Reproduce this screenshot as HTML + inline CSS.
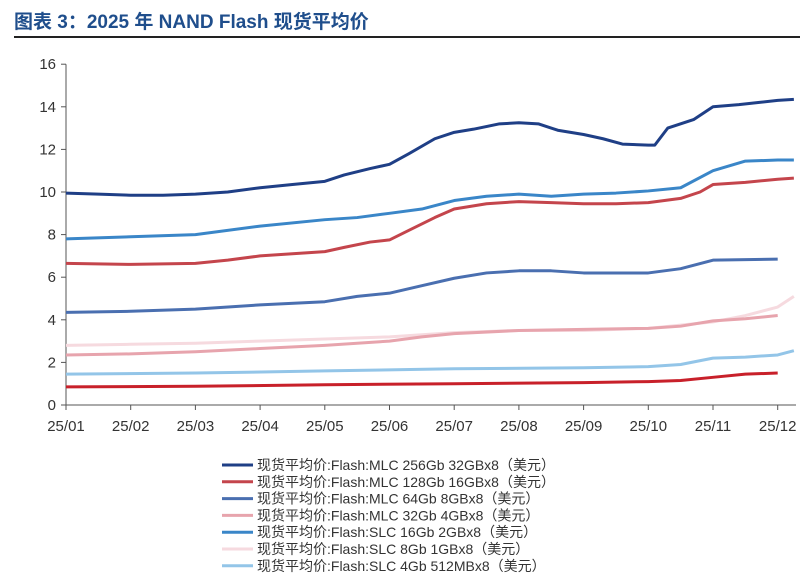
<!DOCTYPE html>
<html><head><meta charset="utf-8"><style>
body{margin:0;background:#fff;width:800px;height:582px;overflow:hidden;font-family:"Liberation Sans","Noto Sans CJK SC",sans-serif}
</style></head><body>
<svg id="c" width="800" height="582" xmlns="http://www.w3.org/2000/svg">
<text x="14" y="28" font-size="19" font-weight="bold" fill="#1f4e8c" font-family="Liberation Sans,Noto Sans CJK SC,sans-serif">图表 3：2025 年 NAND Flash 现货平均价</text>
<line x1="14" y1="37" x2="800" y2="37" stroke="#222" stroke-width="2"/>
<g id="axes"></g><g id="series"></g><g id="legend"></g>
</svg>
<script>
const months=["25/01","25/02","25/03","25/04","25/05","25/06","25/07","25/08","25/09","25/10","25/11","25/12"];
const yTicks=[0,2,4,6,8,10,12,14,16];
const names=["现货平均价:Flash:MLC 256Gb 32GBx8（美元）","现货平均价:Flash:MLC 128Gb 16GBx8（美元）","现货平均价:Flash:MLC 64Gb 8GBx8（美元）","现货平均价:Flash:MLC 32Gb 4GBx8（美元）","现货平均价:Flash:SLC 16Gb 2GBx8（美元）","现货平均价:Flash:SLC 8Gb 1GBx8（美元）","现货平均价:Flash:SLC 4Gb 512MBx8（美元）","其他"];
const colors=["#1f3f86","#c4454c","#4a6fb0","#e7a4ad","#3a86c8","#f6dadf","#93c5e8","#c8202a"];
const t256=[0,0.5,1,1.5,2,2.5,3,3.5,4,4.3,4.7,5,5.3,5.7,6,6.3,6.7,7,7.3,7.6,8,8.3,8.6,9,9.1,9.3,9.7,10,10.4,10.7,11,11.25];
const v256=[9.95,9.9,9.85,9.85,9.9,10.0,10.2,10.35,10.5,10.8,11.1,11.3,11.8,12.5,12.8,12.95,13.2,13.25,13.2,12.9,12.7,12.5,12.25,12.2,12.2,13.0,13.4,14.0,14.1,14.2,14.3,14.35];
const t128=[0,1,2,2.5,3,3.5,4,4.3,4.7,5,5.3,5.7,6,6.5,7,7.5,8,8.5,9,9.5,9.8,10,10.5,11,11.25];
const v128=[6.65,6.6,6.65,6.8,7.0,7.1,7.2,7.4,7.65,7.75,8.2,8.8,9.2,9.45,9.55,9.5,9.45,9.45,9.5,9.7,10.0,10.35,10.45,10.6,10.65];
const t64=[0,1,2,3,4,4.5,5,5.5,6,6.5,7,7.5,8,9,9.5,10,11];
const v64=[4.35,4.4,4.5,4.7,4.85,5.1,5.25,5.6,5.95,6.2,6.3,6.3,6.2,6.2,6.4,6.8,6.85];
const t32=[0,1,2,3,4,5,5.5,6,7,8,9,9.5,10,10.5,11];
const v32=[2.35,2.4,2.5,2.65,2.8,3.0,3.2,3.35,3.5,3.55,3.6,3.7,3.95,4.05,4.2];
const tS16=[0,1,2,3,4,4.5,5,5.5,6,6.5,7,7.5,8,8.5,9,9.5,10,10.5,11,11.25];
const vS16=[7.8,7.9,8.0,8.4,8.7,8.8,9.0,9.2,9.6,9.8,9.9,9.8,9.9,9.95,10.05,10.2,11.0,11.45,11.5,11.5];
const tS8=[0,1,2,3,4,5,6,7,8,9,10,10.5,11,11.25];
const vS8=[2.8,2.85,2.9,3.0,3.1,3.2,3.4,3.5,3.5,3.6,3.9,4.2,4.6,5.1];
const tS4=[0,2,4,6,8,9,9.5,10,10.5,11,11.25];
const vS4=[1.45,1.5,1.6,1.7,1.75,1.8,1.9,2.2,2.25,2.35,2.55];
const tR=[0,2,4,6,8,9,9.5,10,10.5,11];
const vR=[0.85,0.88,0.95,1.0,1.05,1.1,1.15,1.3,1.45,1.5];
const T=[t256,t128,t64,t32,tS16,tS8,tS4,tR], V=[v256,v128,v64,v32,vS16,vS8,vS4,vR];
const NS="http://www.w3.org/2000/svg";
const X0=66,DX=64.7,Y0=405,DY=21.3;
const xs=m=>X0+m*DX, ys=v=>Y0-v*DY;
function mk(tag,at,par){const e=document.createElementNS(NS,tag);for(const k in at)e.setAttribute(k,at[k]);par.appendChild(e);return e;}
const ax=document.getElementById('axes');
let e=mk('line',{x1:X0,y1:ys(16),x2:X0,y2:Y0,stroke:'#555'},ax);


e=mk('line',{x1:X0,y1:Y0,x2:796,y2:Y0,stroke:'#555'},ax);


yTicks.forEach(v=>{
 mk('line',{x1:X0-5,y1:ys(v),x2:X0,y2:ys(v),stroke:'#555'},ax);
 const t=mk('text',{x:X0-10,y:ys(v)+5,'text-anchor':'end','font-size':15,fill:'#333'},ax);t.textContent=v;
 
 
});
months.forEach((m,i)=>{
 mk('line',{x1:xs(i),y1:Y0,x2:xs(i),y2:Y0+5,stroke:'#555'},ax);
 const t=mk('text',{x:xs(i),y:Y0+26,'text-anchor':'middle','font-size':15,fill:'#333'},ax);t.textContent=m;
 
 
});
const sg=document.getElementById('series');
[5,6,3,7,2,1,4,0].forEach(i=>{
 const p=mk('polyline',{points:T[i].map((m,j)=>xs(m)+','+ys(V[i][j])).join(' '),fill:'none',stroke:colors[i],'stroke-width':3,'stroke-linejoin':'round'},sg);
 
 
});
const lg=document.getElementById('legend');
for(let i=0;i<7;i++){
 const y=465+i*16.8;
 const g=mk('g',{},lg);
 
 
 mk('line',{x1:222,y1:y,x2:253,y2:y,stroke:colors[i],'stroke-width':3},g);
 const t=mk('text',{x:257,y:y+5,'font-size':14,fill:'#333'},g);t.textContent=names[i];
}
</script>
</body></html>
